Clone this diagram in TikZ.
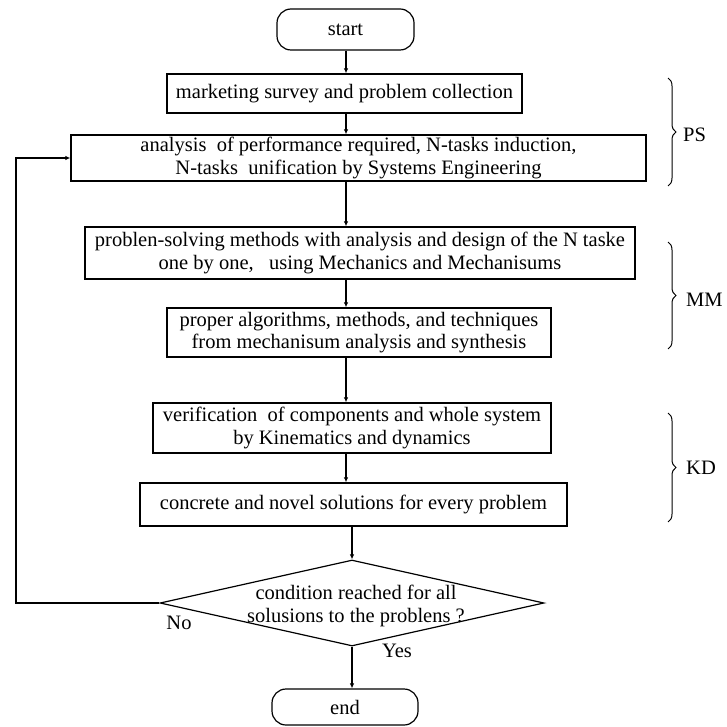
\documentclass[tikz,border=0pt]{standalone}
\usepackage{fontspec}
\setmainfont{Liberation Serif}
\usetikzlibrary{arrows.meta,shapes.geometric,decorations.pathreplacing}

\tikzset{
	box/.style={draw, line width=1.3pt, align=center, inner sep=0pt},
	terminal/.style={draw, line width=1.2pt, rounded corners=14pt, inner sep=0pt},
	decision/.style={draw, shape=diamond, line width=1.2pt, inner sep=0pt},
	arr/.style={line width=1.3pt, -{Latex[length=5pt,width=4.5pt]}},
	grp/.style={line width=1pt, decorate, decoration={brace, amplitude=8pt}}
}

\begin{document}
\begin{tikzpicture}[x=1pt, y=-1pt, font=\fontsize{20.5}{22.5}\selectfont]
		\useasboundingbox (0, 0) rectangle (726, 727);

		\coordinate (spine) at (346, 0);
		\coordinate (fb) at (16, 400);

		\node[terminal, minimum width=137pt, minimum height=41pt] (start) at (345.5, 29.5) {start};

		\node[box, minimum width=355pt, minimum height=39pt] (collect) at (344.5, 93.5)
			{marketing survey and problem collection};
		\node[box, minimum width=575pt, minimum height=46pt] (induct) at (358.5, 158)
			{analysis\ \ of performance required, N-tasks induction,\\
			 N-tasks\ \ unification by Systems Engineering};

		\node[box, minimum width=550pt, minimum height=52pt] (solve) at (360, 253)
			{problen-solving methods with analysis and design of the N taske\\
			 one by one,\ \ \ using Mechanics and Mechanisums};
		\node[box, minimum width=384pt, minimum height=49pt] (algo) at (359, 332.5)
			{proper algorithms, methods, and techniques\\
			 from mechanisum analysis and synthesis};

		\node[box, minimum width=398pt, minimum height=50pt] (verify) at (352, 428)
			{verification\ \ of components and whole system\\
			 by Kinematics and dynamics};
		\node[box, minimum width=427pt, minimum height=43pt] (novel) at (353.5, 504.5)
			{concrete and novel solutions for every problem};

		\node[decision, minimum width=384pt, minimum height=86pt] (cond) at (352, 603) {};
		\node[align=center, inner sep=0pt] (condtxt) at (356, 606)
			{condition reached for all\\ solusions to the problens ?};

		\node[terminal, minimum width=146pt, minimum height=36pt] (end) at (345, 707) {end};

		\draw[arr] (start.south -| spine) -- (collect.north -| spine);
		\draw[arr] (collect.south -| spine) -- (induct.north -| spine);
		\draw[arr] (induct.south -| spine) -- (solve.north -| spine);
		\draw[arr] (solve.south -| spine) -- (algo.north -| spine);
		\draw[arr] (algo.south -| spine) -- (verify.north -| spine);
		\draw[arr] (verify.south -| spine) -- (novel.north -| spine);
		\draw[arr] (novel.south -| cond.north) -- (cond.north);
		\draw[arr] (cond.south) -- (end.north -| cond.south);
		\draw[arr] (cond.west) -| (fb) |- (induct.west);

		\node (no) at (179, 623) {No};
		\node (yes) at (397, 651) {Yes};

		% groups on the right
		\coordinate (psT) at (668, 78);
		\coordinate (psB) at (668, 186);
		\coordinate (mmT) at (668, 242);
		\coordinate (mmB) at (668, 349);
		\coordinate (kdT) at (668, 413);
		\coordinate (kdB) at (668, 522);

		\draw[grp] (psT) -- (psB);
		\draw[grp] (mmT) -- (mmB);
		\draw[grp] (kdT) -- (kdB);

		\node[anchor=west, inner sep=0pt] (ps) at (683, 135) {PS};
		\node[anchor=west, inner sep=0pt] (mm) at (686, 300) {MM};
		\node[anchor=west, inner sep=0pt] (kd) at (686, 468) {KD};
	\end{tikzpicture}
\end{document}
